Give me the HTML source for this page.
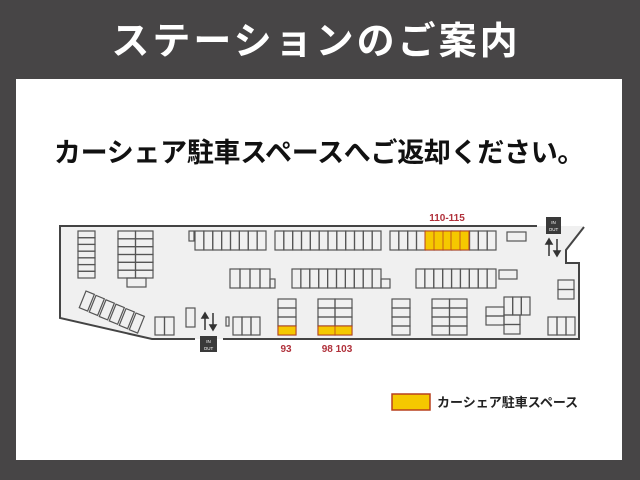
<!DOCTYPE html>
<html><head><meta charset="utf-8"><style>
html,body{margin:0;padding:0;background:#474546;}
body{width:640px;height:480px;overflow:hidden;position:relative;font-family:"Liberation Sans","Noto Sans CJK JP",sans-serif;}
</style></head><body>
<svg id="s" width="640" height="480" viewBox="0 0 640 480" xmlns="http://www.w3.org/2000/svg" style="position:absolute;left:0;top:0">
<rect x="0" y="0" width="640" height="480" fill="#474546"/>
<rect x="16" y="79" width="606" height="381" fill="#ffffff"/>
<text x="316" y="54" text-anchor="middle" font-size="38" font-weight="bold" fill="#ffffff" font-family="Noto Sans CJK JP, sans-serif" letter-spacing="3">ステーションのご案内</text>
<text x="319" y="162" text-anchor="middle" font-size="27" font-weight="bold" fill="#111" font-family="Noto Sans CJK JP, sans-serif" letter-spacing="-0.3">カーシェア駐車スペースへご返却ください。</text>
<polygon points="60,226 537,226 584,226 566,250 566,263 579,263 579,339 152,339 60,318" fill="#f0f0f0" stroke="none"/>
<g fill="none" stroke="#444" stroke-width="2">
<polyline points="537,226 60,226 60,318 152,339 195,339"/>
<polyline points="223,339 579,339 579,263 566,263 566,250 584,227"/>
</g>
<g id="st" fill="none" stroke="#555" stroke-width="1.2"></g>
<g fill="#f5c800" stroke="#b8401e" stroke-width="1">
<rect x="425" y="231" width="44" height="19"/>
<rect x="278" y="326" width="18" height="9"/>
<rect x="318" y="326" width="34" height="9"/>
</g>
<g stroke="#b8401e" stroke-width="0.8">
<line x1="434" y1="231" x2="434" y2="250"/><line x1="443" y1="231" x2="443" y2="250"/><line x1="451" y1="231" x2="451" y2="250"/><line x1="460" y1="231" x2="460" y2="250"/><line x1="335" y1="326" x2="335" y2="335"/>
</g>
<g font-family="Liberation Sans, sans-serif" font-size="10" font-weight="bold" fill="#b0303a" text-anchor="middle">
<text x="447" y="221">110-115</text>
<text x="286" y="352">93</text>
<text x="337" y="352">98 103</text>
</g>
<rect x="546" y="217" width="15" height="17" fill="#3a3a3a"/>
<text x="553.5" y="224" font-size="4.5" fill="#fff" text-anchor="middle" font-family="Liberation Sans">IN</text>
<text x="553.5" y="231" font-size="4.5" fill="#fff" text-anchor="middle" font-family="Liberation Sans">OUT</text>
<rect x="200" y="336" width="17" height="16" fill="#3a3a3a"/>
<text x="208.5" y="343" font-size="4.5" fill="#fff" text-anchor="middle" font-family="Liberation Sans">IN</text>
<text x="208.5" y="350" font-size="4.5" fill="#fff" text-anchor="middle" font-family="Liberation Sans">OUT</text>
<g stroke="#333" stroke-width="1.5" fill="#333">
<line x1="549" y1="242" x2="549" y2="256"/><polygon points="546,244 552,244 549,239"/>
<line x1="557" y1="239" x2="557" y2="253"/><polygon points="554,251 560,251 557,256"/>
<line x1="205" y1="316" x2="205" y2="330"/><polygon points="202,318 208,318 205,313"/>
<line x1="213" y1="313" x2="213" y2="327"/><polygon points="210,325 216,325 213,330"/>
</g>
<rect x="392" y="394" width="38" height="16" fill="#f5c800" stroke="#b8401e" stroke-width="1.5"/>
<text x="437" y="407" font-size="13" font-weight="bold" fill="#222" font-family="Noto Sans CJK JP, sans-serif">カーシェア駐車スペース</text>
</svg>
<script>
var g=document.getElementById('st'),ns='http://www.w3.org/2000/svg';
function r(x,y,w,h,t){var e=document.createElementNS(ns,'rect');e.setAttribute('x',x);e.setAttribute('y',y);e.setAttribute('width',w);e.setAttribute('height',h);if(t)e.setAttribute('transform',t);g.appendChild(e);}
function grid(x,y,w,h,c,rw){var cw=w/c,rh=h/rw;for(var i=0;i<c;i++)for(var j=0;j<rw;j++)r(x+i*cw,y+j*rh,cw,rh);}
grid(78,231,17,47,1,7);
grid(118,231,35,47,2,6);
r(127,278,19,9);
r(189,231,5,10);
grid(195,231,71,19,8,1);
grid(275,231,106,19,12,1);
grid(390,231,106,19,12,1);
r(507,232,19,9);
grid(230,269,40,19,4,1);r(270,279,5,9);
grid(292,269,89,19,10,1);r(381,279,9,9);
grid(416,269,80,19,9,1);
r(499,270,18,9);
grid(558,280,16,19,1,2);
for(var i=0;i<6;i++){r(0,0,9,18,'translate('+(86+i*10)+','+(291+i*4.4)+') rotate(22)');}
grid(155,317,19,18,2,1);
r(186,308,9,19);
r(226,317,3,9);
grid(233,317,27,18,3,1);
grid(278,299,18,36,1,4);
grid(318,299,34,36,2,4);
grid(392,299,18,36,1,4);
grid(432,299,35,36,2,4);
grid(486,307,18,18,1,2);
grid(504,297,26,18,3,1);
grid(504,315,16,19,1,2);
grid(548,317,27,18,3,1);
</script>
</body></html>
